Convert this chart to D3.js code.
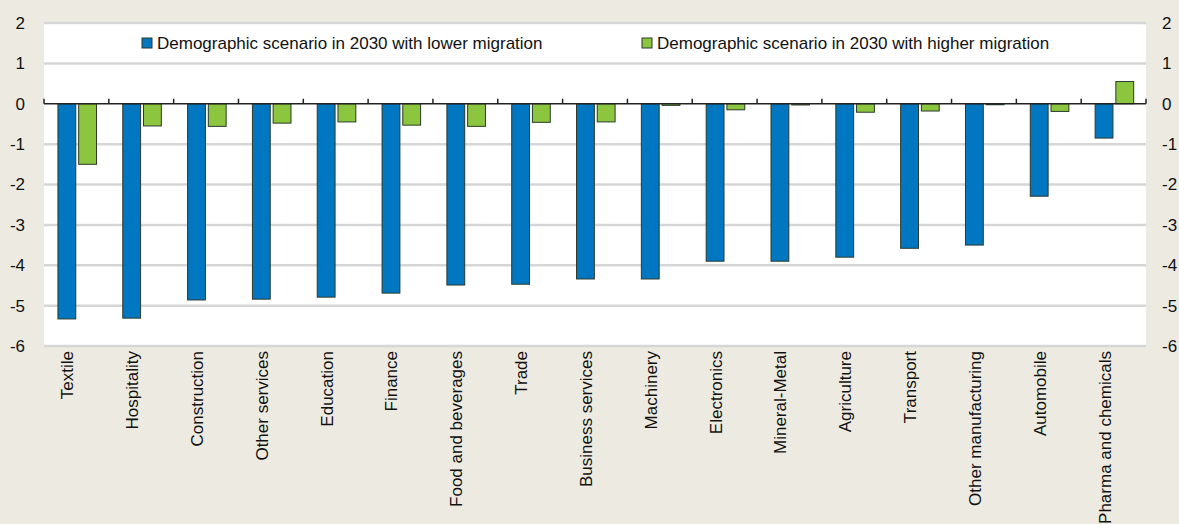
<!DOCTYPE html>
<html>
<head>
<meta charset="utf-8">
<script src="https://cdn.jsdelivr.net/npm/d3@7"></script>
<style>
  html, body { margin: 0; padding: 0; background: #edebe1; }
  svg { display: block; }
  text { font-family: "Liberation Sans", Arial, sans-serif; fill: #111; }
</style>
</head>
<body>
<svg id="chart" width="1179" height="524"></svg>
<script>
// ── Datos ──
const sectors = ["Textile", "Hospitality", "Construction", "Other services", "Education",
  "Finance", "Food and beverages", "Trade", "Business services", "Machinery",
  "Electronics", "Mineral-Metal", "Agriculture", "Transport", "Other manufacturing",
  "Automobile", "Pharma and chemicals"];
const lowerMigration = [-5.33, -5.31, -4.86, -4.84, -4.79, -4.69, -4.49, -4.47, -4.34, -4.34,
  -3.90, -3.90, -3.80, -3.58, -3.50, -2.29, -0.85];
const higherMigration = [-1.50, -0.55, -0.56, -0.48, -0.45, -0.53, -0.56, -0.46, -0.45, -0.04,
  -0.15, -0.03, -0.21, -0.18, -0.01, -0.19, 0.55];
const seriesNames = ["Demographic scenario in 2030 with lower migration",
  "Demographic scenario in 2030 with higher migration"];
const yTicks = [2, 1, 0, -1, -2, -3, -4, -5, -6];

const COLORS = ["#0077c0", "#8cc63f"];
const FS = 17;
const fmt = d => String(d); // guion simple, como en el original

const svg = d3.select("#chart");
const plot = { left: 44, right: 1146, top: 23, bottom: 346 };

const x = d3.scaleBand().domain(sectors).range([plot.left, plot.right]).padding(0);
const y = d3.scaleLinear().domain([-6, 2]).range([plot.bottom, plot.top]);
const bw = x.bandwidth();
const inner = d3.scaleBand().domain([0, 1]).range([bw * 0.215, bw * 0.81]).paddingInner(0.14);

// Área blanca
svg.append("rect")
  .attr("x", plot.left).attr("y", plot.top)
  .attr("width", plot.right - plot.left).attr("height", plot.bottom - plot.top)
  .attr("fill", "#fff");

// Líneas de cuadrícula
svg.append("g").selectAll("line")
  .data(yTicks.filter(d => d !== 0)).join("line")
  .attr("x1", plot.left).attr("x2", plot.right)
  .attr("y1", d => y(d)).attr("y2", d => y(d))
  .attr("stroke", "#d6d6d6").attr("stroke-width", 2.5);

// Ejes Y (izquierda y derecha)
svg.append("g")
  .attr("transform", `translate(${plot.left - 19},0)`)
  .call(d3.axisLeft(y).tickValues(yTicks).tickSize(0).tickPadding(0).tickFormat(fmt))
  .call(g => g.select(".domain").remove())
  .selectAll("text").attr("font-size", FS).attr("font-family", "'Liberation Sans', Arial, sans-serif");

svg.append("g")
  .attr("transform", `translate(${plot.right + 16},0)`)
  .call(d3.axisRight(y).tickValues(yTicks).tickSize(0).tickPadding(0).tickFormat(fmt))
  .call(g => g.select(".domain").remove())
  .selectAll("text").attr("font-size", FS).attr("font-family", "'Liberation Sans', Arial, sans-serif");

// Barras
const groups = svg.append("g").selectAll("g")
  .data(sectors).join("g")
  .attr("transform", d => `translate(${x(d)},0)`);

[lowerMigration, higherMigration].forEach((vals, si) => {
  groups.append("rect")
    .attr("x", inner(si))
    .attr("width", inner.bandwidth())
    .attr("y", (d, i) => y(Math.max(0, vals[i])))
    .attr("height", (d, i) => Math.max(1, Math.abs(y(vals[i]) - y(0))))
    .attr("fill", COLORS[si])
    .attr("stroke", "#2b3a2b").attr("stroke-width", 1);
});

// Línea del cero con marcas
const zero = svg.append("g");
zero.append("line")
  .attr("x1", plot.left).attr("x2", plot.right)
  .attr("y1", y(0)).attr("y2", y(0))
  .attr("stroke", "#222").attr("stroke-width", 1.5);
zero.selectAll(".tick").data(sectors.concat([null])).join("line")
  .attr("x1", (d, i) => plot.left + i * bw).attr("x2", (d, i) => plot.left + i * bw)
  .attr("y1", y(0) - 5).attr("y2", y(0))
  .attr("stroke", "#222").attr("stroke-width", 1.5);

// Etiquetas de categorías (rotadas)
svg.append("g").selectAll("text")
  .data(sectors).join("text")
  .attr("transform", d => `translate(${x(d) + bw / 2 - 9},${plot.bottom + 5}) rotate(-90)`)
  .attr("text-anchor", "end")
  .attr("dy", "0.35em")
  .attr("font-size", FS)
  .text(d => d);

// Leyenda
const legendX = [142, 642];
const legend = svg.append("g").selectAll("g")
  .data(seriesNames).join("g")
  .attr("transform", (d, i) => `translate(${legendX[i]},${43})`);
legend.append("rect")
  .attr("x", 0).attr("y", -5).attr("width", 10).attr("height", 10)
  .attr("fill", (d, i) => COLORS[i]).attr("stroke", "#2b3a2b").attr("stroke-width", 1);
legend.append("text")
  .attr("x", 15).attr("dy", "0.35em")
  .attr("font-size", FS)
  .text(d => d);
</script>
</body>
</html>
